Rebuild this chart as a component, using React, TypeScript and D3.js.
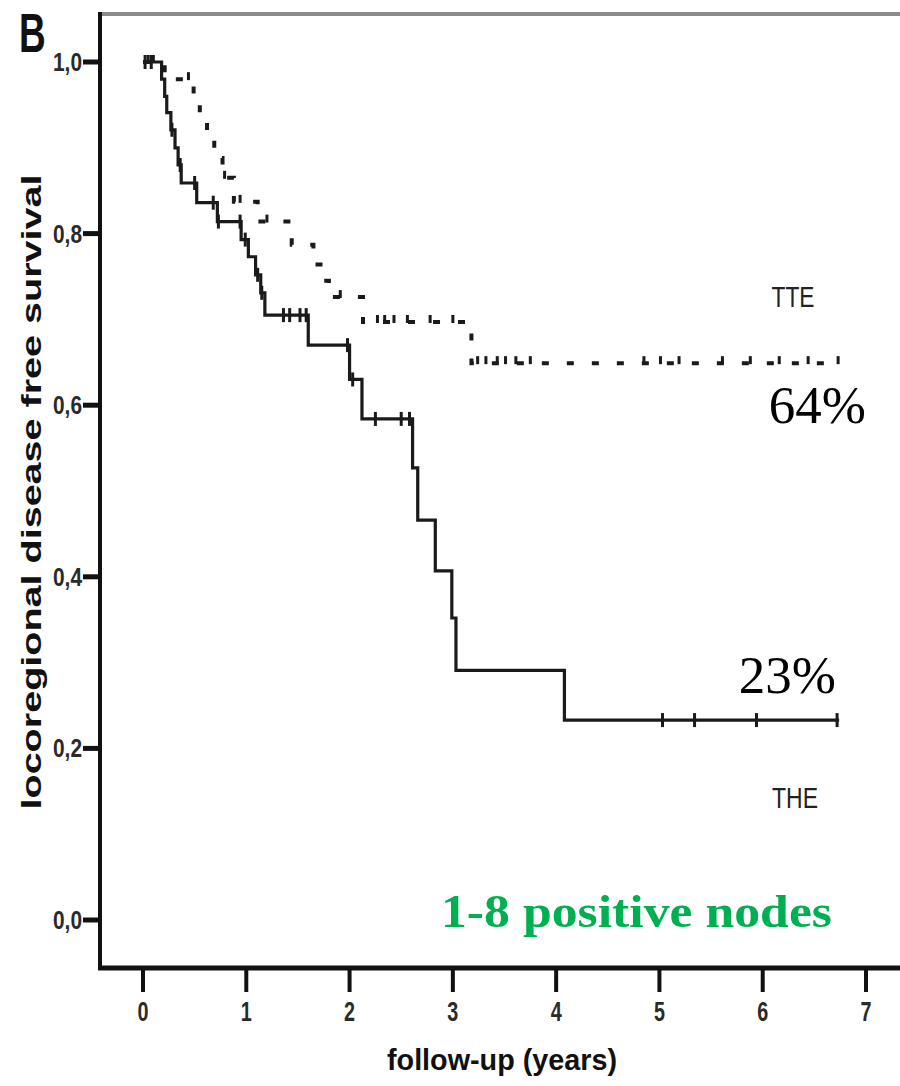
import React, { useEffect, useRef } from 'react';
import * as d3 from 'd3';

const width = 900;
const height = 1086;

// THE (solid) - times of drops (years) and survival after each drop
const theTimes = [0.18, 0.21, 0.23, 0.27, 0.31, 0.34, 0.37, 0.52, 0.72, 0.95, 1.02, 1.09, 1.14, 1.18, 1.6, 2.0, 2.12, 2.61, 2.66, 2.83, 2.99, 3.03, 4.08];
const theSurv = [0.98, 0.96, 0.941, 0.921, 0.9, 0.88, 0.859, 0.836, 0.814, 0.793, 0.773, 0.752, 0.731, 0.705, 0.67, 0.63, 0.584, 0.527, 0.466, 0.407, 0.352, 0.291, 0.233];
const theCensor = [0.02, 0.08, 0.28, 0.36, 0.5, 0.68, 0.73, 0.94, 0.99, 1.11, 1.15, 1.36, 1.42, 1.52, 1.58, 1.98, 2.03, 2.25, 2.5, 2.58, 5.03, 5.34, 5.94, 6.72];
const theEnd = 6.74;

// TTE (dashed)
const tteTimes = [0.21, 0.49, 0.55, 0.62, 0.69, 0.77, 0.88, 1.11, 1.44, 1.65, 1.74, 1.8, 2.13, 3.18];
const tteSurv = [0.98, 0.958, 0.935, 0.911, 0.888, 0.865, 0.837, 0.814, 0.787, 0.764, 0.745, 0.726, 0.697, 0.649];
const tteCensor = [0.05, 0.1, 0.44, 0.79, 0.94, 1.2, 1.91, 2.27, 2.34, 2.43, 2.56, 2.78, 3.0, 3.24, 3.32, 3.43, 3.51, 3.61, 3.75, 4.85, 5.01, 5.19, 5.61, 5.88, 6.16, 6.44, 6.73];
const tteEnd = 6.75;

const xTicks = [0, 1, 2, 3, 4, 5, 6, 7];
const yTicks = [0, 0.2, 0.4, 0.6, 0.8, 1.0];

const stepPoints = (times, surv, end) => {
    const pts = [[0, 1]];
    times.forEach((t, i) => pts.push([t, surv[i]]));
    pts.push([end, surv[surv.length - 1]]);
    return pts;
};

const survAt = (times, surv, t) => {
    let s = 1;
    times.forEach((ti, i) => { if (ti <= t) s = surv[i]; });
    return s;
};

const App = () => {
    const ref = useRef(null);

    useEffect(() => {
        const svg = d3.select(ref.current);
        svg.selectAll('*').remove();

        const x = d3.scaleLinear().domain([0, 7]).range([143, 866]);
        const y = d3.scaleLinear().domain([0, 1]).range([920, 62]);
        const font = "'Liberation Sans', Arial, sans-serif";

        svg.append('rect').attr('width', width).attr('height', height).attr('fill', '#fff');

        // frame
        svg.append('line').attr('x1', 98).attr('x2', 900).attr('y1', 14).attr('y2', 14)
            .attr('stroke', '#8a8a8a').attr('stroke-width', 4);
        svg.append('line').attr('x1', 100).attr('x2', 100).attr('y1', 12).attr('y2', 970)
            .attr('stroke', '#111').attr('stroke-width', 4);
        svg.append('line').attr('x1', 98).attr('x2', 900).attr('y1', 968).attr('y2', 968)
            .attr('stroke', '#111').attr('stroke-width', 5);

        // y ticks
        const fmt = d => d3.format('.1f')(d).replace('.', ',');
        const yg = svg.append('g');
        yg.selectAll('line').data(yTicks).join('line')
            .attr('x1', 83).attr('x2', 100).attr('y1', d => y(d)).attr('y2', d => y(d))
            .attr('stroke', '#111').attr('stroke-width', 5);
        yg.selectAll('text').data(yTicks).join('text')
            .attr('x', 82).attr('y', d => y(d) + 9)
            .attr('text-anchor', 'end')
            .attr('font-family', font).attr('font-weight', 'bold').attr('font-size', 25)
            .attr('fill', '#2a2a2a')
            .attr('textLength', 29).attr('lengthAdjust', 'spacingAndGlyphs')
            .text(fmt);

        // x ticks
        const xg = svg.append('g');
        xg.selectAll('line').data(xTicks).join('line')
            .attr('x1', d => x(d)).attr('x2', d => x(d)).attr('y1', 968).attr('y2', 992)
            .attr('stroke', '#111').attr('stroke-width', 4);
        xg.selectAll('text').data(xTicks).join('text')
            .attr('x', d => x(d)).attr('y', 1021)
            .attr('text-anchor', 'middle')
            .attr('font-family', font).attr('font-weight', 'bold').attr('font-size', 28)
            .attr('fill', '#2a2a2a')
            .attr('textLength', 11).attr('lengthAdjust', 'spacingAndGlyphs')
            .text(d => d);

        // axis titles
        svg.append('text').attr('x', 502).attr('y', 1070).attr('text-anchor', 'middle')
            .attr('font-family', font).attr('font-weight', 'bold').attr('font-size', 30)
            .attr('fill', '#111')
            .attr('textLength', 230).attr('lengthAdjust', 'spacingAndGlyphs')
            .text('follow-up (years)');
        svg.append('text').attr('transform', 'translate(41,492) rotate(-90)')
            .attr('text-anchor', 'middle')
            .attr('font-family', font).attr('font-weight', 'bold').attr('font-size', 27)
            .attr('fill', '#111')
            .attr('textLength', 635).attr('lengthAdjust', 'spacingAndGlyphs')
            .text('locoregional disease free survival');

        // panel letter, condensed via transform
        svg.append('text').attr('transform', 'translate(19,52) scale(0.66,1)')
            .attr('font-family', font).attr('font-weight', 'bold').attr('font-size', 56).attr('fill', '#111')
            .text('B');

        // curves
        const line = d3.line().curve(d3.curveStepAfter).x(d => x(d[0])).y(d => y(d[1]));
        const curves = [
            { times: theTimes, surv: theSurv, end: theEnd, censor: theCensor, dash: null, width: 3.2 },
            { times: tteTimes, surv: tteSurv, end: tteEnd, censor: tteCensor, dash: '7 18', width: 4 }
        ];
        curves.forEach(c => {
            svg.append('path')
                .attr('d', line(stepPoints(c.times, c.surv, c.end)))
                .attr('fill', 'none').attr('stroke', '#1a1a1a')
                .attr('stroke-width', c.width)
                .attr('stroke-dasharray', c.dash);
            svg.append('g').selectAll('line').data(c.censor).join('line')
                .attr('x1', d => x(d)).attr('x2', d => x(d))
                .attr('y1', d => y(survAt(c.times, c.surv, d)) - 7)
                .attr('y2', d => y(survAt(c.times, c.surv, d)) + (c.dash ? 1 : 7))
                .attr('stroke', '#1a1a1a').attr('stroke-width', 3);
        });

        // labels
        svg.append('text').attr('x', 793).attr('y', 307).attr('text-anchor', 'middle')
            .attr('font-family', font).attr('font-size', 29).attr('fill', '#222')
            .attr('textLength', 43).attr('lengthAdjust', 'spacingAndGlyphs')
            .text('TTE');
        svg.append('text').attr('x', 795).attr('y', 808).attr('text-anchor', 'middle')
            .attr('font-family', font).attr('font-size', 29).attr('fill', '#222')
            .attr('textLength', 46).attr('lengthAdjust', 'spacingAndGlyphs')
            .text('THE');

        const serif = "'Liberation Serif', 'Times New Roman', serif";
        svg.append('text').attr('x', 866).attr('y', 423).attr('text-anchor', 'end')
            .attr('font-family', serif).attr('font-size', 53).attr('fill', '#000')
            .text('64%');
        svg.append('text').attr('x', 836).attr('y', 693).attr('text-anchor', 'end')
            .attr('font-family', serif).attr('font-size', 53).attr('fill', '#000')
            .text('23%');
        svg.append('text').attr('x', 441).attr('y', 927)
            .attr('font-family', serif).attr('font-weight', 'bold').attr('font-size', 47)
            .attr('fill', '#00b050')
            .attr('textLength', 391).attr('lengthAdjust', 'spacingAndGlyphs')
            .text('1-8 positive nodes');
    }, []);

    return (
        <svg ref={ref} width={width} height={height}
            style={{ position: 'absolute', left: 0, top: 0, display: 'block' }} />
    );
};

export default App;
